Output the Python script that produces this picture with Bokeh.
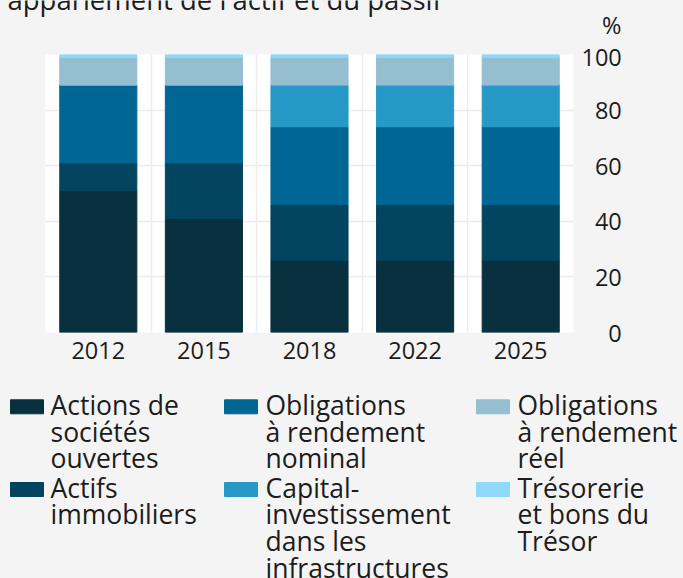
from bokeh.plotting import figure
from bokeh.models import ColumnDataSource, Range1d, FixedTicker
from bokeh.layouts import column
from bokeh.core.properties import value
from bokeh.embed import file_html
from bokeh.resources import INLINE

# ---- data ----
years = ["2012", "2015", "2018", "2022", "2025"]
series_names = [
    "Actions de\nsociétés\nouvertes",
    "Actifs\nimmobiliers",
    "Obligations\nà rendement\nnominal",
    "Capital-\ninvestissement\ndans les\ninfrastructures",
    "Obligations\nà rendement\nréel",
    "Trésorerie\net bons du\nTrésor",
]
actions = [51, 41, 26, 26, 26]
immobiliers = [10, 20, 20, 20, 20]
nominal = [28, 28, 28, 28, 28]
capital = [0, 0, 15, 15, 15]
reel = [10, 10, 10, 10, 10]
tresor = [1, 1, 1, 1, 1]
y_ticks = [0, 20, 40, 60, 80, 100]
title_text = "l'appariement de l'actif et du passif"
unit_text = "%"

colors = ["#08303F", "#03455F", "#006693", "#2699C7", "#95BED1", "#8ED8F8"]
keys = ["actions", "immobiliers", "nominal", "capital", "reel", "tresor"]
legend_order = [0, 2, 4, 1, 3, 5]

FONT = "Open Sans"
TXT = "#1c1c1c"
BG = "#F4F4F4"
BASE_FIX = 0.33     # alphabetic-baseline correction, in em

W = 683
TOP_H = 40          # header strip (title + unit)
MAIN_H = 345        # bars + axes
LEG_H = 193         # legend strip
FL, FR = 45, 573    # frame left/right in page pixels
FRAME_TOP = 14
FRAME_H = 278


def no_align(fig):
    try:
        fig.frame_align = False
    except Exception:
        pass


def pixel_figure(h):
    f = figure(width=W, height=h, output_backend="svg", toolbar_location=None,
               x_range=Range1d(0, W), y_range=Range1d(h, 0),
               min_border=0, x_axis_type=None, y_axis_type=None)
    f.border_fill_color = BG
    f.background_fill_color = BG
    f.outline_line_color = None
    f.grid.visible = False
    no_align(f)
    return f


def base(y, size):
    return y - BASE_FIX * size


# ---- header strip: cut title + unit ----
top = pixel_figure(TOP_H)
top.text(x=[-6], y=[base(8, 27.5)], text=[title_text], text_font=value(FONT),
         text_font_size="27.5px", text_color=TXT, text_align="left", text_baseline="alphabetic")
top.text(x=[621], y=[base(32, 23.5)], text=[unit_text], text_font=value(FONT),
         text_font_size="23.5px", text_color=TXT, text_align="right", text_baseline="alphabetic")

# ---- main chart ----
source = ColumnDataSource(dict(
    x=list(range(len(years))),
    actions=actions, immobiliers=immobiliers, nominal=nominal,
    capital=capital, reel=reel, tresor=tresor,
))

p = figure(width=W, height=MAIN_H, output_backend="svg", toolbar_location=None,
           x_range=Range1d(-0.5, len(years) - 0.5), y_range=Range1d(0, 100),
           y_axis_location="right",
           min_border_left=FL, min_border_right=W - FR,
           min_border_top=FRAME_TOP, min_border_bottom=MAIN_H - FRAME_TOP - FRAME_H)
p.border_fill_color = BG
p.background_fill_color = "white"
p.outline_line_color = None
no_align(p)

p.vbar_stack(keys, x="x", width=0.73, color=colors, source=source)

p.xaxis.ticker = FixedTicker(ticks=list(range(len(years))))
p.xaxis.major_label_overrides = {i: y for i, y in enumerate(years)}
p.yaxis.ticker = FixedTicker(ticks=y_ticks)
maxlen = max(len(str(t)) for t in y_ticks)
p.yaxis.major_label_overrides = {t: "\u2007" * (maxlen - len(str(t))) + str(t) for t in y_ticks}
for ax in (p.xaxis[0], p.yaxis[0]):
    ax.axis_line_color = None
    ax.major_tick_line_color = None
    ax.minor_tick_line_color = None
    ax.major_tick_out = 0
    ax.major_label_text_font = FONT
    ax.major_label_text_font_size = "23.5px"
    ax.major_label_text_color = TXT
p.xaxis.major_label_standoff = 9
p.yaxis.major_label_standoff = 8

p.ygrid.ticker = FixedTicker(ticks=y_ticks)
p.xgrid.ticker = FixedTicker(ticks=[i + 0.5 for i in range(len(years) - 1)])
for g in (p.xgrid[0], p.ygrid[0]):
    g.grid_line_color = "#ECECEC"
    g.grid_line_width = 1.5

# ---- legend strip (3 columns x 2 rows) ----
leg = pixel_figure(LEG_H)
y0 = TOP_H + MAIN_H
LEG_FS = 26.5
col_swatch_left = [10, 224, 476]
col_text_left = [50, 265, 517]
row_first_baseline = [413.3 - y0, 496.0 - y0]
line_step = 26.7
sw_w, sw_h = 33, 14

sx, sy, sc = [], [], []
tx, ty, tt = [], [], []
for pos, idx in enumerate(legend_order):
    r, c = divmod(pos, 3)
    b0 = row_first_baseline[r]
    sx.append(col_swatch_left[c] + sw_w / 2)
    sy.append(b0 - sw_h / 2)
    sc.append(colors[idx])
    for k, line in enumerate(series_names[idx].split("\n")):
        tx.append(col_text_left[c])
        ty.append(base(b0 + k * line_step, LEG_FS))
        tt.append(line)

leg.rect(x=sx, y=sy, width=sw_w, height=sw_h, color=sc)
leg.text(x=tx, y=ty, text=tt, text_font=value(FONT), text_font_size=f"{LEG_FS}px",
         text_color=TXT, text_align="left", text_baseline="alphabetic")

layout = column(top, p, leg, spacing=0)
try:
    layout.styles = {"background-color": BG}
except Exception:
    pass
open("out.html", "w").write(file_html(layout, INLINE))
